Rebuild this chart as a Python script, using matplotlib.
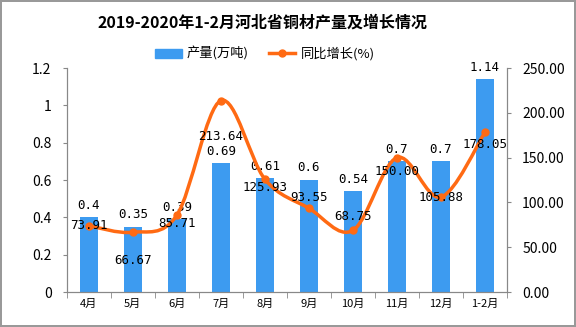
import matplotlib
matplotlib.use('Agg')
import matplotlib.pyplot as plt
from matplotlib.path import Path
from matplotlib.patches import PathPatch
from matplotlib.lines import Line2D
import numpy as np

plt.rcParams['font.family'] = ['Noto Sans CJK SC', 'DejaVu Sans']

months = ['4月', '5月', '6月', '7月', '8月', '9月', '10月', '11月', '12月', '1-2月']
output = [0.4, 0.35, 0.39, 0.69, 0.61, 0.6, 0.54, 0.7, 0.7, 1.14]
growth = [73.91, 66.67, 85.71, 213.64, 125.93, 93.55, 68.75, 150.00, 105.88, 178.05]
growth_labels = ['73.91', '66.67', '85.71', '213.64', '125.93', '93.55', '68.75', '150.00', '105.88', '178.05']

# label offsets (points) for the growth labels
growth_offsets = [0, -20, -6, -26, -6, 8, 10, -10, 0, -9]

bar_color = '#3D9BF0'
line_color = '#FF6A13'
axis_color = '#888888'

fig = plt.figure(figsize=(5.76, 3.27), dpi=100)
fig.patch.set_edgecolor('#999999')
fig.patch.set_linewidth(1.5)
ax = fig.add_axes([0.116, 0.107, 0.764, 0.685])
ax2 = ax.twinx()

x = np.arange(len(months))
ax.bar(x, output, width=0.42, color=bar_color, zorder=2)
ax.set_xlim(-0.5, len(months) - 0.5)
ax.set_ylim(0, 1.2)
ax.set_yticks([0, 0.2, 0.4, 0.6, 0.8, 1.0, 1.2])
ax.set_yticklabels(['0', '0.2', '0.4', '0.6', '0.8', '1', '1.2'])
ax.set_xticks(x)
ax.set_xticklabels(months)
ax.set_xticks(np.arange(len(months) + 1) - 0.5, minor=True)
ax.tick_params(axis='x', which='major', length=0, labelsize=8, pad=5)
ax.tick_params(axis='x', which='minor', length=4, color=axis_color)
ax.tick_params(axis='y', labelsize=10, length=3, color=axis_color, pad=8)

for xi, v in zip(x, output):
    ax.annotate(f'{v:g}', (xi, v), xytext=(0, 4), textcoords='offset points',
                ha='center', va='bottom', fontsize=9, family='DejaVu Sans Mono')

ax2.set_ylim(0, 250)
ax2.set_yticks([0, 50, 100, 150, 200, 250])
ax2.set_yticklabels(['0.00', '50.00', '100.00', '150.00', '200.00', '250.00'])
ax2.tick_params(axis='y', labelsize=10, length=3, color=axis_color, pad=8)

# smooth curve through the points (Catmull-Rom as cubic Bezier)
pts = np.column_stack([x, growth]).astype(float)
ext = np.vstack([pts[0], pts, pts[-1]])
verts = [tuple(pts[0])]
codes = [Path.MOVETO]
for i in range(len(pts) - 1):
    p0, p1, p2, p3 = ext[i], ext[i + 1], ext[i + 2], ext[i + 3]
    c1 = p1 + (p2 - p0) / 6
    c2 = p2 - (p3 - p1) / 6
    verts += [tuple(c1), tuple(c2), tuple(p2)]
    codes += [Path.CURVE4] * 3
ax2.add_patch(PathPatch(Path(verts, codes), facecolor='none', edgecolor=line_color,
                        lw=2.5, zorder=3))
ax2.plot(x, growth, 'o', color=line_color, ms=5, zorder=4)

for xi, v, lab, off in zip(x, growth, growth_labels, growth_offsets):
    ax2.annotate(lab, (xi, v), xytext=(0, off), textcoords='offset points',
                 ha='center', va='center', fontsize=9, family='DejaVu Sans Mono', zorder=5)

for a in (ax, ax2):
    a.spines['top'].set_visible(False)
    for s in ('left', 'right', 'bottom'):
        a.spines[s].set_color(axis_color)

fig.text(0.455, 0.93, '2019-2020年1-2月河北省铜材产量及增长情况', ha='center', va='center',
         fontsize=11.5, fontweight='bold')

handles = [plt.Rectangle((0, 0), 1, 1, color=bar_color),
           Line2D([0], [0], color=line_color, lw=2.5, marker='o', ms=5)]
fig.legend(handles, ['产量(万吨)', '同比增长(%)'], loc='center', bbox_to_anchor=(0.46, 0.835),
           ncol=2, frameon=False, fontsize=9.5, handlelength=2.0, columnspacing=1.5,
           handletextpad=0.4)

fig.savefig('out.png', dpi=100)
